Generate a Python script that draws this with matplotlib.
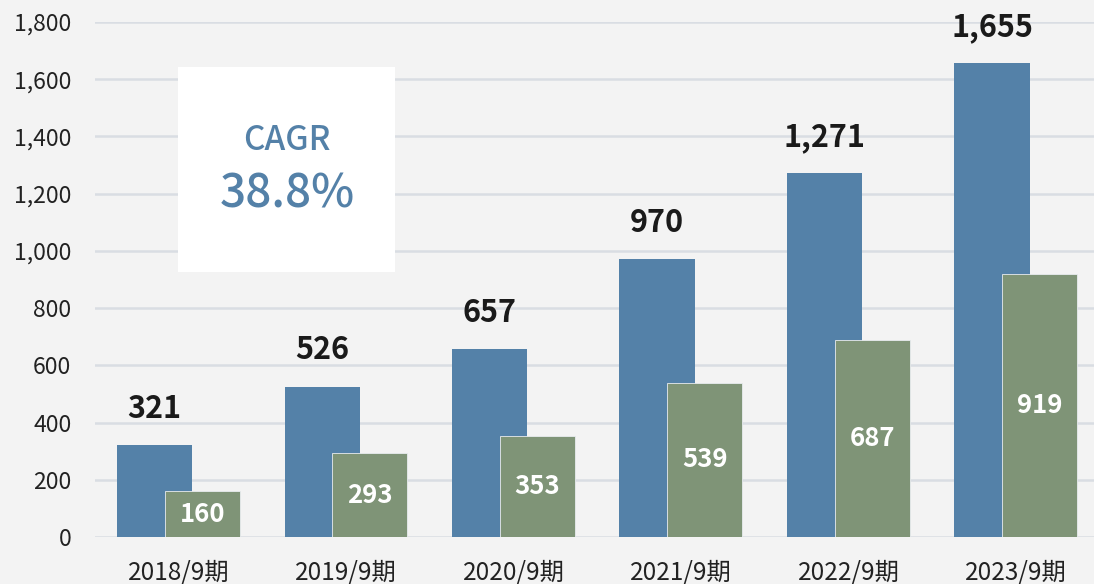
import matplotlib
matplotlib.use("Agg")
import matplotlib.pyplot as plt
from matplotlib.patches import Rectangle
import numpy as np

plt.rcParams['font.family'] = ['Noto Sans CJK JP', 'DejaVu Sans']

categories = ["2018/9期", "2019/9期", "2020/9期", "2021/9期", "2022/9期", "2023/9期"]
series_blue = [321, 526, 657, 970, 1271, 1655]
series_green = [160, 293, 353, 539, 687, 919]
y_ticks = [0, 200, 400, 600, 800, 1000, 1200, 1400, 1600, 1800]
cagr_title = "CAGR"
cagr_value = "38.8%"

BLUE = "#5481A8"
GREEN = "#7F9477"
BG = "#F3F3F3"
GRID = "#D9DDE3"
TXT = "#1A1A1A"

fig = plt.figure(figsize=(10.94, 5.84), dpi=100, facecolor=BG)
ax = fig.add_axes([95/1094, 1-537/584, 1-95/1094, (537-22)/584])
ax.set_facecolor(BG)

x = np.arange(len(categories))
w = 0.448
off = 0.143
ax.bar(x - off, series_blue, width=w, color=BLUE, zorder=3)
ax.bar(x + off, series_green, width=w, color=GREEN, zorder=4,
       edgecolor="#E8ECEF", linewidth=0.6)

for xi, v in zip(x, series_blue):
    ax.annotate(f"{v:,}", (xi - off, v), xytext=(0, 19.5), textcoords="offset points",
                ha="center", va="baseline", fontsize=22, fontweight="bold", color=TXT, zorder=6)
for xi, v in zip(x, series_green):
    ax.text(xi + off, v / 2, f"{v:,}", ha="center", va="center",
            fontsize=18.5, fontweight="bold", color="white", zorder=6)

ax.set_xlim(-0.4985, 5.466)
ax.set_ylim(0, 1800)
ax.set_yticks(y_ticks)
ax.set_yticklabels([f"{t:,}" for t in y_ticks])
ax.set_xticks(x)
ax.set_xticklabels(categories)
ax.tick_params(axis="y", length=0, pad=17, labelsize=16.5, labelcolor="#222222")
ax.tick_params(axis="x", length=0, pad=16, labelsize=17.5, labelcolor="#222222")
ax.grid(axis="y", color=GRID, linewidth=1.8, zorder=0)
ax.set_axisbelow(True)
for s in ax.spines.values():
    s.set_visible(False)

# CAGR box
box = Rectangle((178/1094, 1-272/584), (395-178)/1094, (272-67)/584,
                transform=fig.transFigure, facecolor="white", edgecolor="none", zorder=10)
fig.patches.append(box)
fig.text(287/1094, 1-141/584, cagr_title, ha="center", va="center", fontsize=24,
         fontweight="medium", color=BLUE, zorder=11)
fig.text(287/1094, 1-194/584, cagr_value, ha="center", va="center", fontsize=33,
         fontweight="medium", color=BLUE, zorder=11)

fig.savefig("out.png", dpi=100, facecolor=BG)
